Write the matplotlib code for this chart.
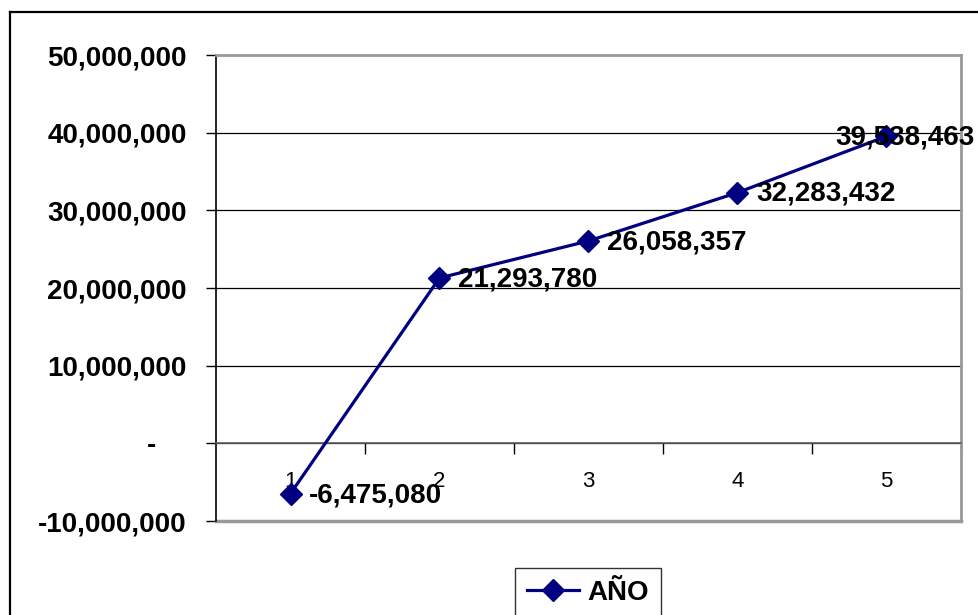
import matplotlib
matplotlib.use("Agg")
import matplotlib.pyplot as plt
from matplotlib.lines import Line2D
from matplotlib.ticker import FuncFormatter, FixedLocator

plt.rcParams['font.family'] = ['Liberation Sans', 'DejaVu Sans']

# Data
years = [1, 2, 3, 4, 5]
values = [-6475080, 21293780, 26058357, 32283432, 39538463]
series_name = "AÑO"
y_ticks = [-10000000, 0, 10000000, 20000000, 30000000, 40000000, 50000000]

NAVY = "#000080"
W, H = 979, 615
fig = plt.figure(figsize=(W / 100, H / 100), dpi=100)

ax = fig.add_axes([216 / W, 1 - 521 / H, (961 - 216) / W, (521 - 55) / H])
ax.set_xlim(0.5, 5.5)
ax.set_ylim(-10000000, 50000000)

# Series
ax.plot(years, values, color=NAVY, lw=2.3, marker="D", ms=11,
        markerfacecolor=NAVY, markeredgecolor=NAVY, label=series_name,
        zorder=5, clip_on=False)

# Value labels
for i, (x, v) in enumerate(zip(years, values)):
    dx = -37 if i == len(values) - 1 else 13.5
    ax.annotate(f"{v:,}", (x, v), xytext=(dx, -1), textcoords="offset points",
                ha="left", va="center", fontsize=20, fontweight="bold",
                color="black", zorder=6, annotation_clip=False)

# Y axis (accounting style: zero shown as a dash)
def fmt(v, _):
    return "-    " if v == 0 else f"{int(v):,}"
ax.yaxis.set_major_locator(FixedLocator(y_ticks))
ax.yaxis.set_major_formatter(FuncFormatter(fmt))
ax.tick_params(axis="y", direction="out", length=7, width=1, color="black",
               labelsize=20, pad=14)
for lab in ax.get_yticklabels():
    lab.set_fontweight("bold")
ax.yaxis.grid(True, color="black", lw=0.9)
ax.set_axisbelow(True)

# X axis crossing at zero: boundary ticks, centred category labels
ax.spines["bottom"].set_position(("data", 0))
ax.spines["bottom"].set_color("#606060")
ax.spines["bottom"].set_linewidth(1.2)
ax.xaxis.set_major_locator(FixedLocator([1.5, 2.5, 3.5, 4.5, 5.5]))
ax.xaxis.set_major_formatter(FuncFormatter(lambda v, _: ""))
ax.xaxis.set_minor_locator(FixedLocator(years))
ax.xaxis.set_minor_formatter(FuncFormatter(lambda v, _: f"{int(round(v))}"))
ax.tick_params(axis="x", which="major", direction="out", length=8, width=1,
               color="black")
ax.tick_params(axis="x", which="minor", length=0, labelsize=16, pad=20)

ax.spines["left"].set_color("black")
ax.spines["left"].set_linewidth(1.2)
for s in ("top", "right"):
    ax.spines[s].set_color("#999999")
    ax.spines[s].set_linewidth(2)
ax.axhline(-10000000, color="#999999", lw=2.5, clip_on=False, zorder=1)

# Outer chart frame
fig.add_artist(Line2D([10 / W, 10 / W], [0, 1 - 12 / H], color="black", lw=1.6,
                      transform=fig.transFigure))
fig.add_artist(Line2D([10 / W, 1], [1 - 12 / H, 1 - 12 / H], color="black",
                      lw=1.6, transform=fig.transFigure))

# Legend
leg = fig.legend(loc="upper left", bbox_to_anchor=(515 / W, 1 - 568 / H),
                 bbox_transform=fig.transFigure, frameon=True, fancybox=False,
                 prop={"size": 20, "weight": "bold"}, handlelength=1.9,
                 handletextpad=0.3, borderpad=0.42, borderaxespad=0)
leg.get_frame().set_edgecolor("black")
leg.get_frame().set_linewidth(1.0)

fig.savefig("out.png", dpi=100)
